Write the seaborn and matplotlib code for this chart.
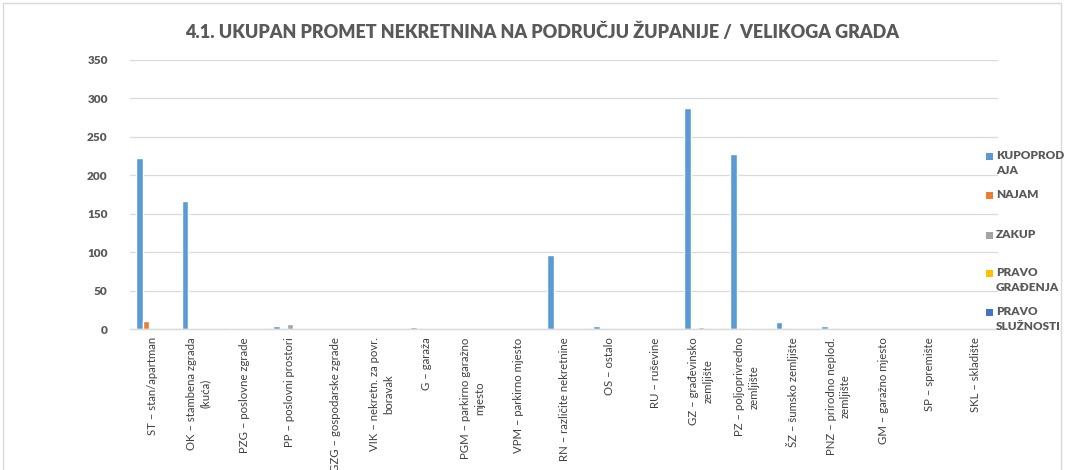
import matplotlib
matplotlib.use("Agg")
import matplotlib.pyplot as plt
import seaborn as sns
import pandas as pd
from matplotlib.patches import Rectangle

sns.set_theme(style="white")
plt.rcParams['font.family'] = ['Lato', 'DejaVu Sans']

title = "4.1. UKUPAN PROMET NEKRETNINA NA PODRUČJU ŽUPANIJE /  VELIKOGA GRADA"

categories = [
    "ST – stan/apartman",
    "OK – stambena zgrada\n(kuća)",
    "PZG – poslovne zgrade",
    "PP – poslovni prostori",
    "GZG – gospodarske zgrade",
    "VIK – nekretn. za povr.\nboravak",
    "G – garaža",
    "PGM – parkirno garažno\nmjesto",
    "VPM – parkirno mjesto",
    "RN – različite nekretnine",
    "OS – ostalo",
    "RU – ruševine",
    "GZ – građevinsko\nzemljište",
    "PZ – poljoprivredno\nzemljište",
    "ŠZ – šumsko zemljište",
    "PNZ – prirodno neplod.\nzemljište",
    "GM – garažno mjesto",
    "SP – spremište",
    "SKL – skladište",
]

series = ["KUPOPRODAJA", "NAJAM", "ZAKUP", "PRAVO GRAĐENJA", "PRAVO SLUŽNOSTI"]
legend_labels = ["KUPOPROD\nAJA", "NAJAM", "ZAKUP", "PRAVO\nGRAĐENJA", "PRAVO\nSLUŽNOSTI"]

kupoprodaja = [223, 166, 1, 4, 0, 0, 3, 0, 0, 96, 4, 0, 287, 228, 9, 4, 0, 0, 0]
najam       = [10, 1, 0, 0, 0, 0, 0, 0, 0, 0, 0, 0, 0, 0, 0, 0, 0, 0, 0]
zakup       = [0, 0, 0, 6, 0, 0, 0, 0, 0, 0, 0, 0, 3, 1, 0, 0, 0, 0, 0]
pravo_gradenja  = [0] * 19
pravo_sluznosti = [0] * 19

yticks = [0, 50, 100, 150, 200, 250, 300, 350]

colors = ["#5B9BD5", "#ED7D31", "#A5A5A5", "#FFC000", "#4472C4"]

rows = []
for s, vals in zip(series, [kupoprodaja, najam, zakup, pravo_gradenja, pravo_sluznosti]):
    for c, v in zip(categories, vals):
        rows.append({"category": c, "series": s, "value": v})
df = pd.DataFrame(rows)

W, H = 1068, 470
fig = plt.figure(figsize=(W / 100, H / 100), dpi=100)
ax = fig.add_axes([130 / W, 1 - 329 / H, 868 / W, 269 / H])

sns.barplot(data=df, x="category", y="value", hue="series", order=categories,
            hue_order=series, palette=colors, width=0.74, dodge=True,
            saturation=1, ax=ax, legend=False, errorbar=None)

ax.set_ylim(0, 350)
ax.set_yticks(yticks)
ax.set_xlim(-0.5, len(categories) - 0.5)
ax.yaxis.grid(True, color="#D9D9D9", linewidth=0.9)
ax.set_axisbelow(True)
for sp in ["top", "right", "left"]:
    ax.spines[sp].set_visible(False)
ax.spines["bottom"].set_color("#D9D9D9")
ax.spines["bottom"].set_linewidth(1.0)
ax.set_xlabel("")
ax.set_ylabel("")
ax.tick_params(axis="both", length=0)
ax.tick_params(axis="y", pad=16)
ax.tick_params(axis="x", pad=6)

ax.set_yticklabels([str(v) for v in yticks], fontsize=8.5, fontweight="heavy",
                   color="#595959")

ax.set_xticks(range(len(categories)))
ax.set_xticklabels(categories, rotation=90, fontsize=8.2, color="#404040",
                   ha="center", va="top", multialignment="center",
                   linespacing=1.35)

fig.text(0.508, 1 - 32 / H, title, ha="center", va="center",
         fontsize=13, fontweight="heavy", color="#595959")

# legend drawn as small squares with bold labels, top-aligned like the reference
legend_y = [156, 195, 235, 273, 312]
for c, lab, y in zip(colors, legend_labels, legend_y):
    fig.patches.append(Rectangle((986 / W, 1 - (y + 4) / H), 7 / W, 7 / H,
                                 transform=fig.transFigure, facecolor=c,
                                 edgecolor="none"))
    fig.text(996 / W, 1 - (y - 6) / H, lab, ha="left", va="top", fontsize=8.5,
             fontweight="heavy", color="#595959", linespacing=1.45)

fig.patches.append(Rectangle((3 / W, -0.1), 1 - 10 / W, 1.1 - 3 / H,
                             transform=fig.transFigure, fill=False,
                             edgecolor="#D9D9D9", linewidth=1.0))

fig.savefig("out.png", dpi=100)
